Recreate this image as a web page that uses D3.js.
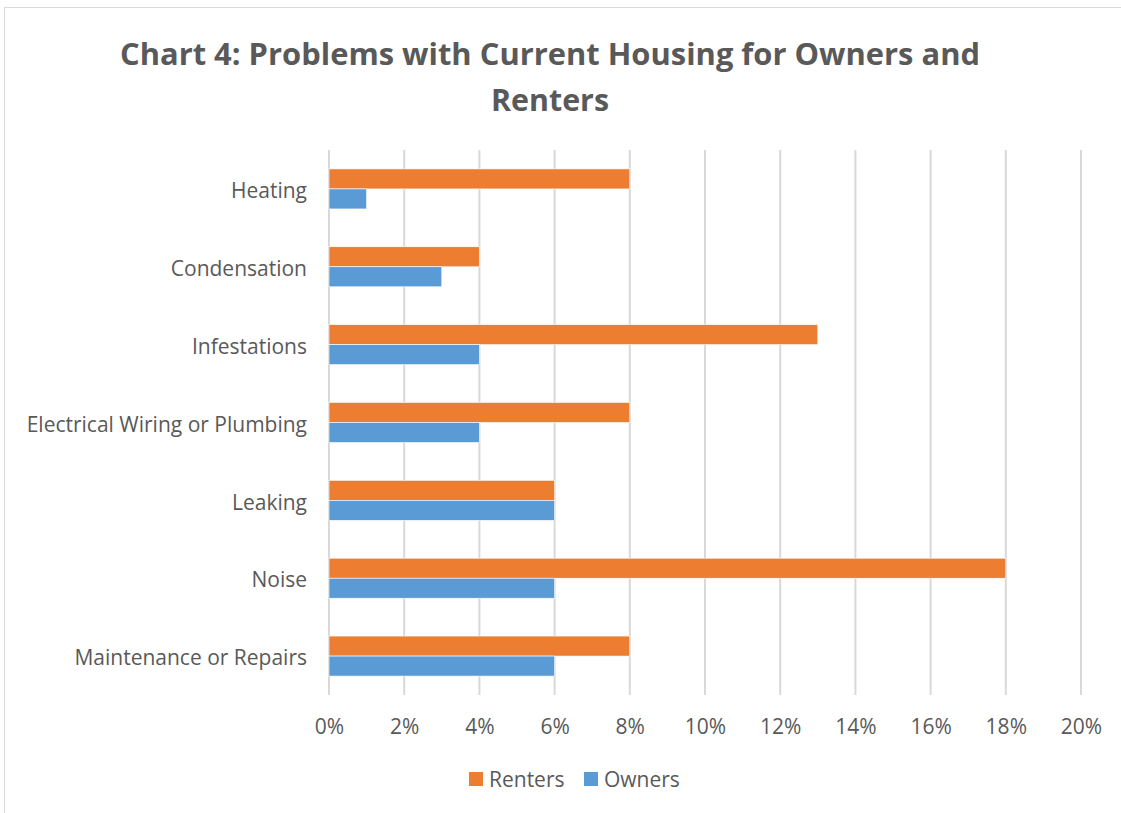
<!DOCTYPE html>
<html>
<head>
<meta charset="utf-8">
<script src="https://cdn.jsdelivr.net/npm/d3@7"></script>
<style>
  html, body { margin: 0; padding: 0; background: #fff; }
  svg { display: block; }
</style>
</head>
<body>
<svg id="chart" width="1121" height="813"></svg>
<script>
// Housing problems reported, share of households (%)
const categories = [
  "Heating",
  "Condensation",
  "Infestations",
  "Electrical Wiring or Plumbing",
  "Leaking",
  "Noise",
  "Maintenance or Repairs"
];
const renters = [8, 4, 13, 8, 6, 18, 8];
const owners  = [1, 3, 4, 4, 6, 6, 6];
const seriesNames = ["Renters", "Owners"];
const tickValues = [0, 2, 4, 6, 8, 10, 12, 14, 16, 18, 20];

const colors = { Renters: "#ED7D31", Owners: "#5B9BD5" };
const textColor = "#595959";
const font = "'Open Sans', Lato, sans-serif";

const svg = d3.select("#chart");

// outer frame
svg.append("rect")
  .attr("x", 4.5).attr("y", 7.5)
  .attr("width", 1130).attr("height", 840)
  .attr("fill", "#fff")
  .attr("stroke", "#D9D9D9")
  .attr("stroke-width", 1);

// title, two centred lines
const titleLines = [
  { text: "Chart 4: Problems with Current Housing for Owners and", y: 65, len: 860 },
  { text: "Renters", y: 111, len: 118 }
];
svg.append("g")
  .selectAll("text")
  .data(titleLines)
  .join("text")
  .attr("x", 550)
  .attr("y", d => d.y)
  .attr("text-anchor", "middle")
  .attr("fill", textColor)
  .attr("font-family", font)
  .attr("font-weight", 700)
  .attr("font-size", 31)
  .attr("textLength", d => d.len)
  .attr("lengthAdjust", "spacingAndGlyphs")
  .text(d => d.text);

const plot = { left: 329, right: 1081, top: 150, bottom: 695 };

const x = d3.scaleLinear().domain([0, 20]).range([plot.left, plot.right]);
const y = d3.scaleBand().domain(categories).range([plot.top, plot.bottom]).paddingInner(0.486).paddingOuter(0.243);
const sub = d3.scaleBand().domain(seriesNames).range([0, y.bandwidth()]);

// vertical gridlines
svg.append("g")
  .selectAll("line")
  .data(tickValues)
  .join("line")
  .attr("x1", d => x(d)).attr("x2", d => x(d))
  .attr("y1", plot.top).attr("y2", plot.bottom)
  .attr("stroke", "#D9D9D9")
  .attr("stroke-width", 2);

// bars
const rows = categories.map((c, i) => ({ cat: c, Renters: renters[i], Owners: owners[i] }));
const groups = svg.append("g")
  .selectAll("g")
  .data(rows)
  .join("g")
  .attr("transform", d => `translate(0,${y(d.cat)})`);

groups.selectAll("rect")
  .data(d => seriesNames.map(s => ({ s, v: d[s] })))
  .join("rect")
  .attr("x", x(0))
  .attr("y", d => sub(d.s))
  .attr("width", d => x(d.v) - x(0))
  .attr("height", sub.bandwidth())
  .attr("fill", d => colors[d.s])
  .attr("stroke", "#fff")
  .attr("stroke-width", 0.6);

// category labels
const yAxis = svg.append("g")
  .attr("transform", `translate(${plot.left},0)`)
  .call(d3.axisLeft(y).tickSize(0).tickPadding(22));
yAxis.select(".domain").remove();
yAxis.selectAll("text")
  .attr("fill", textColor)
  .attr("font-family", font)
  .attr("font-size", 21)
  .attr("dy", "0.44em");

// value axis labels
const xAxis = svg.append("g")
  .attr("transform", `translate(0,${plot.bottom})`)
  .call(d3.axisBottom(x).tickValues(tickValues).tickSize(0).tickPadding(24).tickFormat(d => d + "%"));
xAxis.select(".domain").remove();
xAxis.selectAll("text")
  .attr("fill", textColor)
  .attr("font-family", font)
  .attr("font-size", 21);

// legend
const legend = svg.append("g").attr("transform", "translate(469,779)");
const legendItems = [
  { name: "Renters", dx: 0 },
  { name: "Owners", dx: 115 }
];
const li = legend.selectAll("g")
  .data(legendItems)
  .join("g")
  .attr("transform", d => `translate(${d.dx},0)`);
li.append("rect")
  .attr("x", 0).attr("y", -7)
  .attr("width", 14).attr("height", 14)
  .attr("fill", d => colors[d.name]);
li.append("text")
  .attr("x", 20).attr("y", 0)
  .attr("dy", "0.36em")
  .attr("fill", textColor)
  .attr("font-family", font)
  .attr("font-size", 21)
  .text(d => d.name);
</script>
</body>
</html>
